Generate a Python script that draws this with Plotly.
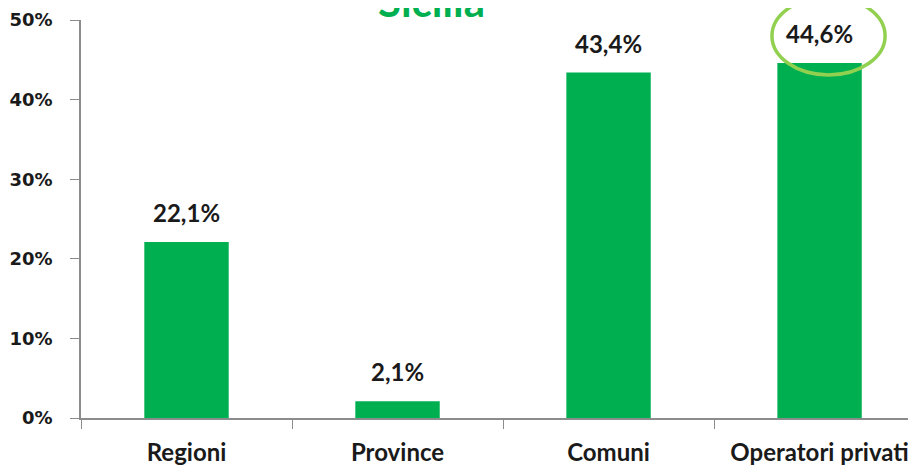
import plotly.graph_objects as go

# data
categories = ["Regioni", "Province", "Comuni", "Operatori privati"]
values = [22.1, 2.1, 43.4, 44.6]
labels = ["22,1%", "2,1%", "43,4%", "44,6%"]
y_ticks = [0, 10, 20, 30, 40, 50]
y_tick_text = ["0%", "10%", "20%", "30%", "40%", "50%"]
title = "Sicilia"

green = "#00B050"
light_green = "#92D050"
axis_grey = "#8C8C8C"

fig = go.Figure()
fig.add_trace(go.Bar(x=categories, y=values, marker_color=green,
                     marker_line_width=0, width=0.4, hoverinfo="skip"))

# value labels above the bars
for c, v, t in zip(categories, values, labels):
    fig.add_annotation(x=c, y=v, text="<b>" + t + "</b>", showarrow=False,
                       xref="x", yref="y", yanchor="bottom", yshift=13,
                       font=dict(family="Lato", size=24, color="#1a1a1a"))

# title, cut at the top of the picture
fig.add_annotation(x=0.42, y=1, xref="paper", yref="paper", text="<b>" + title + "</b>",
                   showarrow=False, font=dict(family="Lato", size=42, color=green),
                   xanchor="center", yanchor="bottom", yshift=-8)

# ring around the last label
fig.add_shape(type="circle", xref="paper", yref="paper",
              x0=0.8275, x1=0.963, y0=0.862, y1=1.058,
              line=dict(color=light_green, width=3.5))

fig.update_layout(
    width=908, height=458,
    margin=dict(l=73, r=0, t=12, b=48, autoexpand=False),
    plot_bgcolor="white", paper_bgcolor="white",
    showlegend=False,
    xaxis=dict(range=[-0.5, 3.457], showline=True, linecolor=axis_grey, linewidth=1.5,
               ticks="outside", tickson="boundaries", ticklen=9, tickcolor=axis_grey,
               tickfont=dict(family="Lato", size=24, color="#1a1a1a", weight="bold"),
               ticklabelstandoff=12, showgrid=False, automargin=False),
    yaxis=dict(range=[0, 50], tickvals=y_ticks, ticktext=y_tick_text,
               showline=True, linecolor=axis_grey, linewidth=1.5,
               ticks="outside", ticklen=9, tickcolor=axis_grey,
               tickfont=dict(family="DejaVu Sans", size=18, color="#1a1a1a", weight="bold"),
               ticklabelstandoff=14, showgrid=False, zeroline=False, automargin=False),
)

fig.write_html("out.html")
